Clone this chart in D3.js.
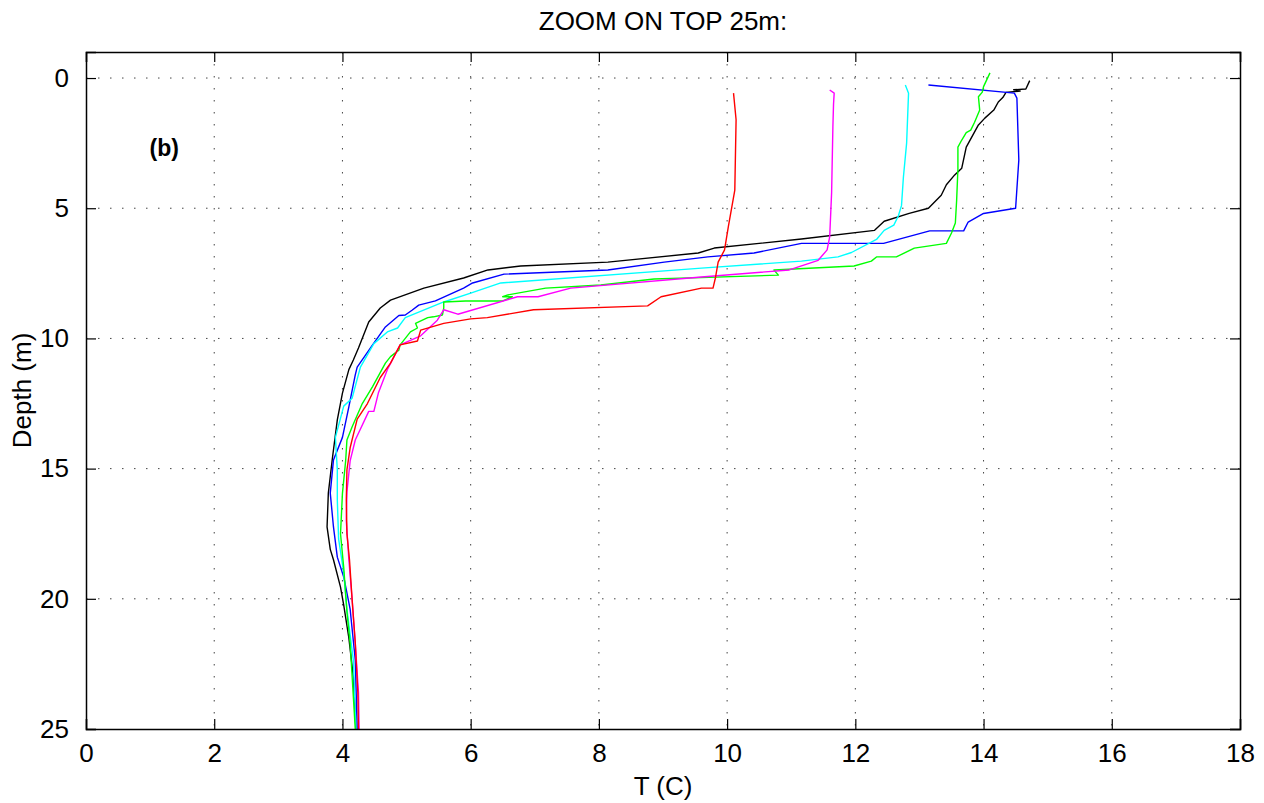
<!DOCTYPE html>
<html><head><meta charset="utf-8">
<script src="https://cdn.jsdelivr.net/npm/d3@7"></script>
<style>body{margin:0;background:#fff}svg{display:block}text{font-family:"Liberation Sans",Arial,sans-serif;fill:#000}</style>
</head><body>
<script>
const title = "ZOOM ON TOP 25m:";
const xLabel = "T (C)";
const yLabel = "Depth (m)";
const panelLabel = "(b)";
const xTicks = [0,2,4,6,8,10,12,14,16,18];
const yTicks = [0,5,10,15,20,25];
const seriesNames = ["black","blue","cyan","green","magenta","red"];
const seriesColors = ["#000000","#0000ff","#00ffff","#00ff00","#ff00ff","#ff0000"];

// [temperature (C), depth (m)]
const profBlack = [[14.72,0.1],[14.66,0.42],[14.47,0.45],[14.57,0.5],[14.35,0.55],[14.3,0.75],[14.23,0.92],[14.16,1.23],[14.02,1.54],[13.92,1.8],[13.73,2.65],[13.66,3.46],[13.55,3.72],[13.42,4.1],[13.34,4.5],[13.14,5.0],[12.84,5.2],[12.45,5.5],[12.3,5.85],[11.16,6.18],[9.8,6.53],[9.55,6.72],[8.14,7.07],[6.78,7.22],[6.27,7.37],[5.89,7.68],[5.27,8.07],[4.75,8.53],[4.59,8.83],[4.41,9.37],[4.25,10.37],[4.17,10.83],[4.1,11.2],[4.0,12.1],[3.92,13.13],[3.84,14.67],[3.78,15.94],[3.76,17.24],[3.81,18.1],[3.86,18.5],[3.97,19.55],[4.02,20.24],[4.1,21.5],[4.17,23.0],[4.21,25.0]];
const profBlue = [[13.14,0.27],[14.48,0.58],[14.52,0.77],[14.55,3.15],[14.5,5.0],[14.0,5.2],[13.76,5.53],[13.69,5.87],[13.16,5.87],[12.44,6.35],[11.16,6.35],[10.42,6.72],[9.7,6.87],[9.02,7.07],[8.14,7.37],[6.52,7.53],[6.03,7.87],[5.89,8.07],[5.45,8.56],[5.19,8.72],[5.09,8.91],[4.98,9.1],[4.88,9.12],[4.67,9.56],[4.47,10.25],[4.23,11.1],[4.2,11.4],[4.1,12.63],[4.0,13.8],[3.86,14.67],[3.81,15.94],[3.86,17.24],[3.92,18.4],[4.02,19.16],[4.12,20.4],[4.2,22.35],[4.23,25.0]];
const profCyan = [[12.78,0.27],[12.83,0.58],[12.8,2.5],[12.75,3.8],[12.72,4.9],[12.67,5.3],[12.6,5.65],[12.45,5.85],[12.33,6.2],[11.94,6.7],[11.73,6.87],[11.16,7.03],[9.6,7.3],[6.47,7.87],[6.0,8.26],[5.58,8.6],[4.98,9.2],[4.86,9.6],[4.7,9.75],[4.49,10.2],[4.28,11.1],[4.15,12.3],[4.02,12.6],[3.89,13.8],[3.92,15.05],[3.92,16.2],[3.94,17.7],[4.02,19.0],[4.07,20.4],[4.17,22.35],[4.21,25.0]];
const profGreen = [[14.1,-0.2],[14.0,0.33],[13.98,0.54],[13.92,0.72],[13.94,1.23],[13.86,1.7],[13.8,2.0],[13.73,2.1],[13.66,2.38],[13.6,2.65],[13.6,3.5],[13.58,4.7],[13.56,5.57],[13.5,5.95],[13.42,6.35],[12.92,6.53],[12.64,6.87],[12.33,6.87],[12.25,7.03],[11.98,7.22],[10.73,7.37],[10.8,7.57],[8.86,7.72],[8.03,7.95],[7.17,8.07],[6.58,8.33],[6.5,8.4],[6.65,8.4],[6.5,8.56],[5.92,8.56],[5.58,8.6],[5.58,8.83],[5.56,9.1],[5.42,9.17],[5.33,9.2],[5.14,9.42],[5.17,9.6],[5.06,9.75],[4.9,10.25],[4.88,10.45],[4.75,10.7],[4.67,10.95],[4.47,11.85],[4.31,12.5],[4.15,13.4],[4.07,13.9],[4.05,14.7],[4.0,15.95],[3.97,17.5],[4.02,18.8],[4.07,20.5],[4.12,21.7],[4.2,25.0]];
const profMagenta = [[11.6,0.46],[11.67,0.58],[11.66,1.0],[11.65,1.87],[11.63,4.4],[11.6,6.1],[11.56,6.6],[11.42,7.0],[10.97,7.37],[9.6,7.64],[7.56,8.07],[7.05,8.4],[6.73,8.4],[5.8,9.07],[5.58,8.9],[5.48,9.3],[5.22,9.9],[4.9,10.25],[4.7,11.2],[4.56,12.1],[4.49,12.8],[4.41,12.8],[4.2,13.9],[4.12,14.7],[4.07,15.9],[4.06,17.0],[4.1,18.5],[4.15,20.0],[4.2,21.7],[4.25,23.6],[4.26,25.0]];
const profRed = [[10.1,0.58],[10.14,1.6],[10.12,4.3],[10.02,5.7],[9.96,6.6],[9.86,7.07],[9.82,7.65],[9.78,8.07],[9.6,8.07],[8.97,8.4],[8.76,8.75],[6.98,8.9],[6.26,9.2],[6.0,9.25],[5.58,9.42],[5.22,9.68],[5.17,10.1],[4.9,10.25],[4.75,10.95],[4.59,11.5],[4.39,12.5],[4.23,13.1],[4.12,14.2],[4.07,15.05],[4.06,16.2],[4.07,17.5],[4.11,18.5],[4.15,20.0],[4.2,21.7],[4.24,23.6],[4.25,25.0]];
const profiles = [profBlack, profBlue, profCyan, profGreen, profMagenta, profRed];

const W = 1264, H = 803;
const m = {left:86, right:24, top:52, bottom:74};
const iw = W - m.left - m.right, ih = H - m.top - m.bottom;
const FS = 26;
const svg = d3.select("body").append("svg").attr("width", W).attr("height", H);
const x = d3.scaleLinear().domain([0,18]).range([0, iw]);
const y = d3.scaleLinear().domain([-1,25]).range([0, ih]);
const g = svg.append("g").attr("transform", `translate(${m.left},${m.top})`);

// grid
g.append("g").selectAll("line").data(xTicks.slice(1,-1)).join("line")
  .attr("x1", d=>x(d)).attr("x2", d=>x(d)).attr("y1", 0).attr("y2", ih)
  .attr("stroke", "#444").attr("stroke-width", 1).attr("stroke-dasharray", "1.5,10.5");
g.append("g").selectAll("line").data(yTicks.slice(0,-1)).join("line")
  .attr("y1", d=>y(d)).attr("y2", d=>y(d)).attr("x1", 0).attr("x2", iw)
  .attr("stroke", "#444").attr("stroke-width", 1).attr("stroke-dasharray", "1.5,10.5");

// lines
const line = d3.line().x(d=>x(d[0])).y(d=>y(d[1]));
g.append("g").selectAll("path").data(profiles).join("path")
  .attr("d", line).attr("fill", "none")
  .attr("stroke", (d,i)=>seriesColors[i]).attr("stroke-width", 1.4)
  .attr("stroke-linejoin", "round");

// axes (MATLAB-style: ticks inside on all four sides)
const tl = 10;
const axB = g.append("g").attr("transform", `translate(0,${ih})`)
  .call(d3.axisBottom(x).tickValues(xTicks).tickSize(-tl).tickPadding(tl+5).tickFormat(d3.format("d")));
const axT = g.append("g").call(d3.axisTop(x).tickValues(xTicks).tickSize(-tl).tickFormat(""));
const axL = g.append("g").call(d3.axisLeft(y).tickValues(yTicks).tickSize(-tl).tickPadding(tl+7).tickFormat(d3.format("d")));
const axR = g.append("g").attr("transform", `translate(${iw},0)`)
  .call(d3.axisRight(y).tickValues(yTicks).tickSize(-tl).tickFormat(""));
[axB,axT,axL,axR].forEach(a=>{
  a.select(".domain").attr("stroke","#000").attr("stroke-width",1.5);
  a.selectAll(".tick line").attr("stroke","#000").attr("stroke-width",1.2);
  a.selectAll("text").attr("font-size", FS).attr("font-family", '"Liberation Sans",Arial,sans-serif').attr("fill","#000");
});

svg.append("text").attr("x", m.left + iw/2).attr("y", 30).attr("text-anchor","middle")
  .attr("font-size", FS).text(title);
svg.append("text").attr("x", m.left + iw/2).attr("y", 795).attr("text-anchor","middle")
  .attr("font-size", FS).text(xLabel);
svg.append("text").attr("transform", `translate(31,${m.top+ih/2}) rotate(-90)`).attr("text-anchor","middle")
  .attr("font-size", FS).text(yLabel);
g.append("text").attr("x", x(1.22)).attr("y", y(2.98)).attr("text-anchor","middle")
  .attr("font-size", 23).attr("font-weight","bold").text(panelLabel);
</script>
</body></html>
